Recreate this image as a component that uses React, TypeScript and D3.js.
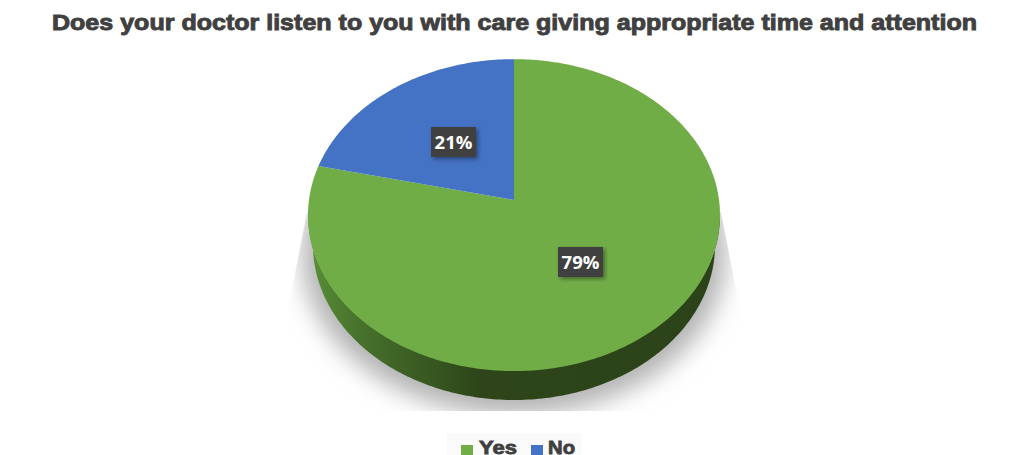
import React from "react";
import * as d3 from "d3";

const title = "Does your doctor listen to you with care giving appropriate time and attention";
const categories = ["Yes", "No"];
const shares = [78.6, 21.4];
const colours = ["#70ad47", "#4472c4"];
const labelCentres: [number, number][] = [[580.5, 262], [453.5, 142]];

type Pt = [number, number];
const W = 1024, H = 455;
const cx = 514, apexY = 200;
const persp = -30 / 310;
const a = 154.5;
const r = 206 * Math.sqrt(1 - persp * persp);
const project = (t: number): Pt => {
  const u = Math.sin(t), v = -Math.cos(t);
  const k = 1 + persp * v;
  return [cx + (r * u) / k, apexY + (a * v) / k];
};

const pieGen = d3.pie<number>().sort(null).value((d) => d);
const arcs = pieGen(shares);
const line = d3.line();
const sector = (s: number, e: number) => {
  const n = Math.max(8, Math.ceil((e - s) * 60));
  const pts: Pt[] = d3.range(n + 1).map((i) => project(s + ((e - s) * i) / n));
  return line([[cx, apexY], ...pts]) + "Z";
};

const sideT = d3.range(0, 181).map((d) => (d * Math.PI) / 180);
const upper: Pt[] = sideT.map((t) => [cx + 206 * Math.cos(t), 215 + 155 * Math.sin(t)]);
const lower: Pt[] = sideT.map((t) => [cx + 201 * Math.cos(t), 245 + 155 * Math.sin(t)]);
const sidePath = line([...upper, ...lower.slice().reverse()]) + "Z";

const shadowClip = line([[307, 212], [288, 310], [288, 411], [740, 411], [740, 310], [721, 212]]) + "Z";

export default function App() {
  return (
    <svg width={W} height={H} viewBox={`0 0 ${W} ${H}`} style={{ position: "absolute", left: 0, top: 0, background: "#fff" }}>
      <defs>
        <linearGradient id="side" gradientUnits="userSpaceOnUse" x1="308" x2="720" y1="0" y2="0">
          <stop offset="0" stopColor="#5a9038" />
          <stop offset="0.12" stopColor="#47722c" />
          <stop offset="0.42" stopColor="#2d4519" />
          <stop offset="1" stopColor="#2c4319" />
        </linearGradient>
        <filter id="blur" x="-20%" y="-20%" width="140%" height="140%">
          <feGaussianBlur stdDeviation="12" />
        </filter>
        <filter id="boxShadow" x="-30%" y="-30%" width="170%" height="170%">
          <feDropShadow dx="2" dy="2" stdDeviation="2" floodColor="#000" floodOpacity="0.4" />
        </filter>
        <clipPath id="shadowClip"><path d={shadowClip} /></clipPath>
      </defs>

      <text x={52} y={30} textLength={925} lengthAdjust="spacingAndGlyphs" fontFamily="Liberation Sans" fontWeight="700" fontSize={22}
        fill="#404040" stroke="#404040" strokeWidth={0.9}>{title}</text>

      <g clipPath="url(#shadowClip)">
        <ellipse cx={514} cy={254} rx={212} ry={161} fill="#b2b2b2" filter="url(#blur)" />
      </g>

      <path d={sidePath} fill="url(#side)" />
      {arcs.map((d, i) => (
        <path key={categories[i]} d={sector(d.startAngle, d.endAngle)} fill={colours[i]} />
      ))}

      {arcs.map((d, i) => (
        <g key={categories[i]}>
          <rect x={labelCentres[i][0] - 22.5} y={labelCentres[i][1] - 15} width={45} height={30} fill="#404040" filter="url(#boxShadow)" />
          <text x={labelCentres[i][0]} y={labelCentres[i][1] + 6.5} textAnchor="middle" fontFamily="Open Sans"
            fontWeight="700" fontSize={18.5} fill="#fff">{Math.round(shares[i])}%</text>
        </g>
      ))}

      <rect x={447} y={433} width={135} height={22} fill="#fafafa" />
      <rect x={461} y={445} width={12} height={10} fill={colours[0]} />
      <text x={479} y={454} textLength={38} lengthAdjust="spacingAndGlyphs" fontFamily="Liberation Sans" fontWeight="700" fontSize={19} fill="#404040" stroke="#404040" strokeWidth={0.8}>{categories[0]}</text>
      <rect x={531} y={445} width={12} height={10} fill={colours[1]} />
      <text x={548} y={454} textLength={27} lengthAdjust="spacingAndGlyphs" fontFamily="Liberation Sans" fontWeight="700" fontSize={19} fill="#404040" stroke="#404040" strokeWidth={0.8}>{categories[1]}</text>
    </svg>
  );
}
